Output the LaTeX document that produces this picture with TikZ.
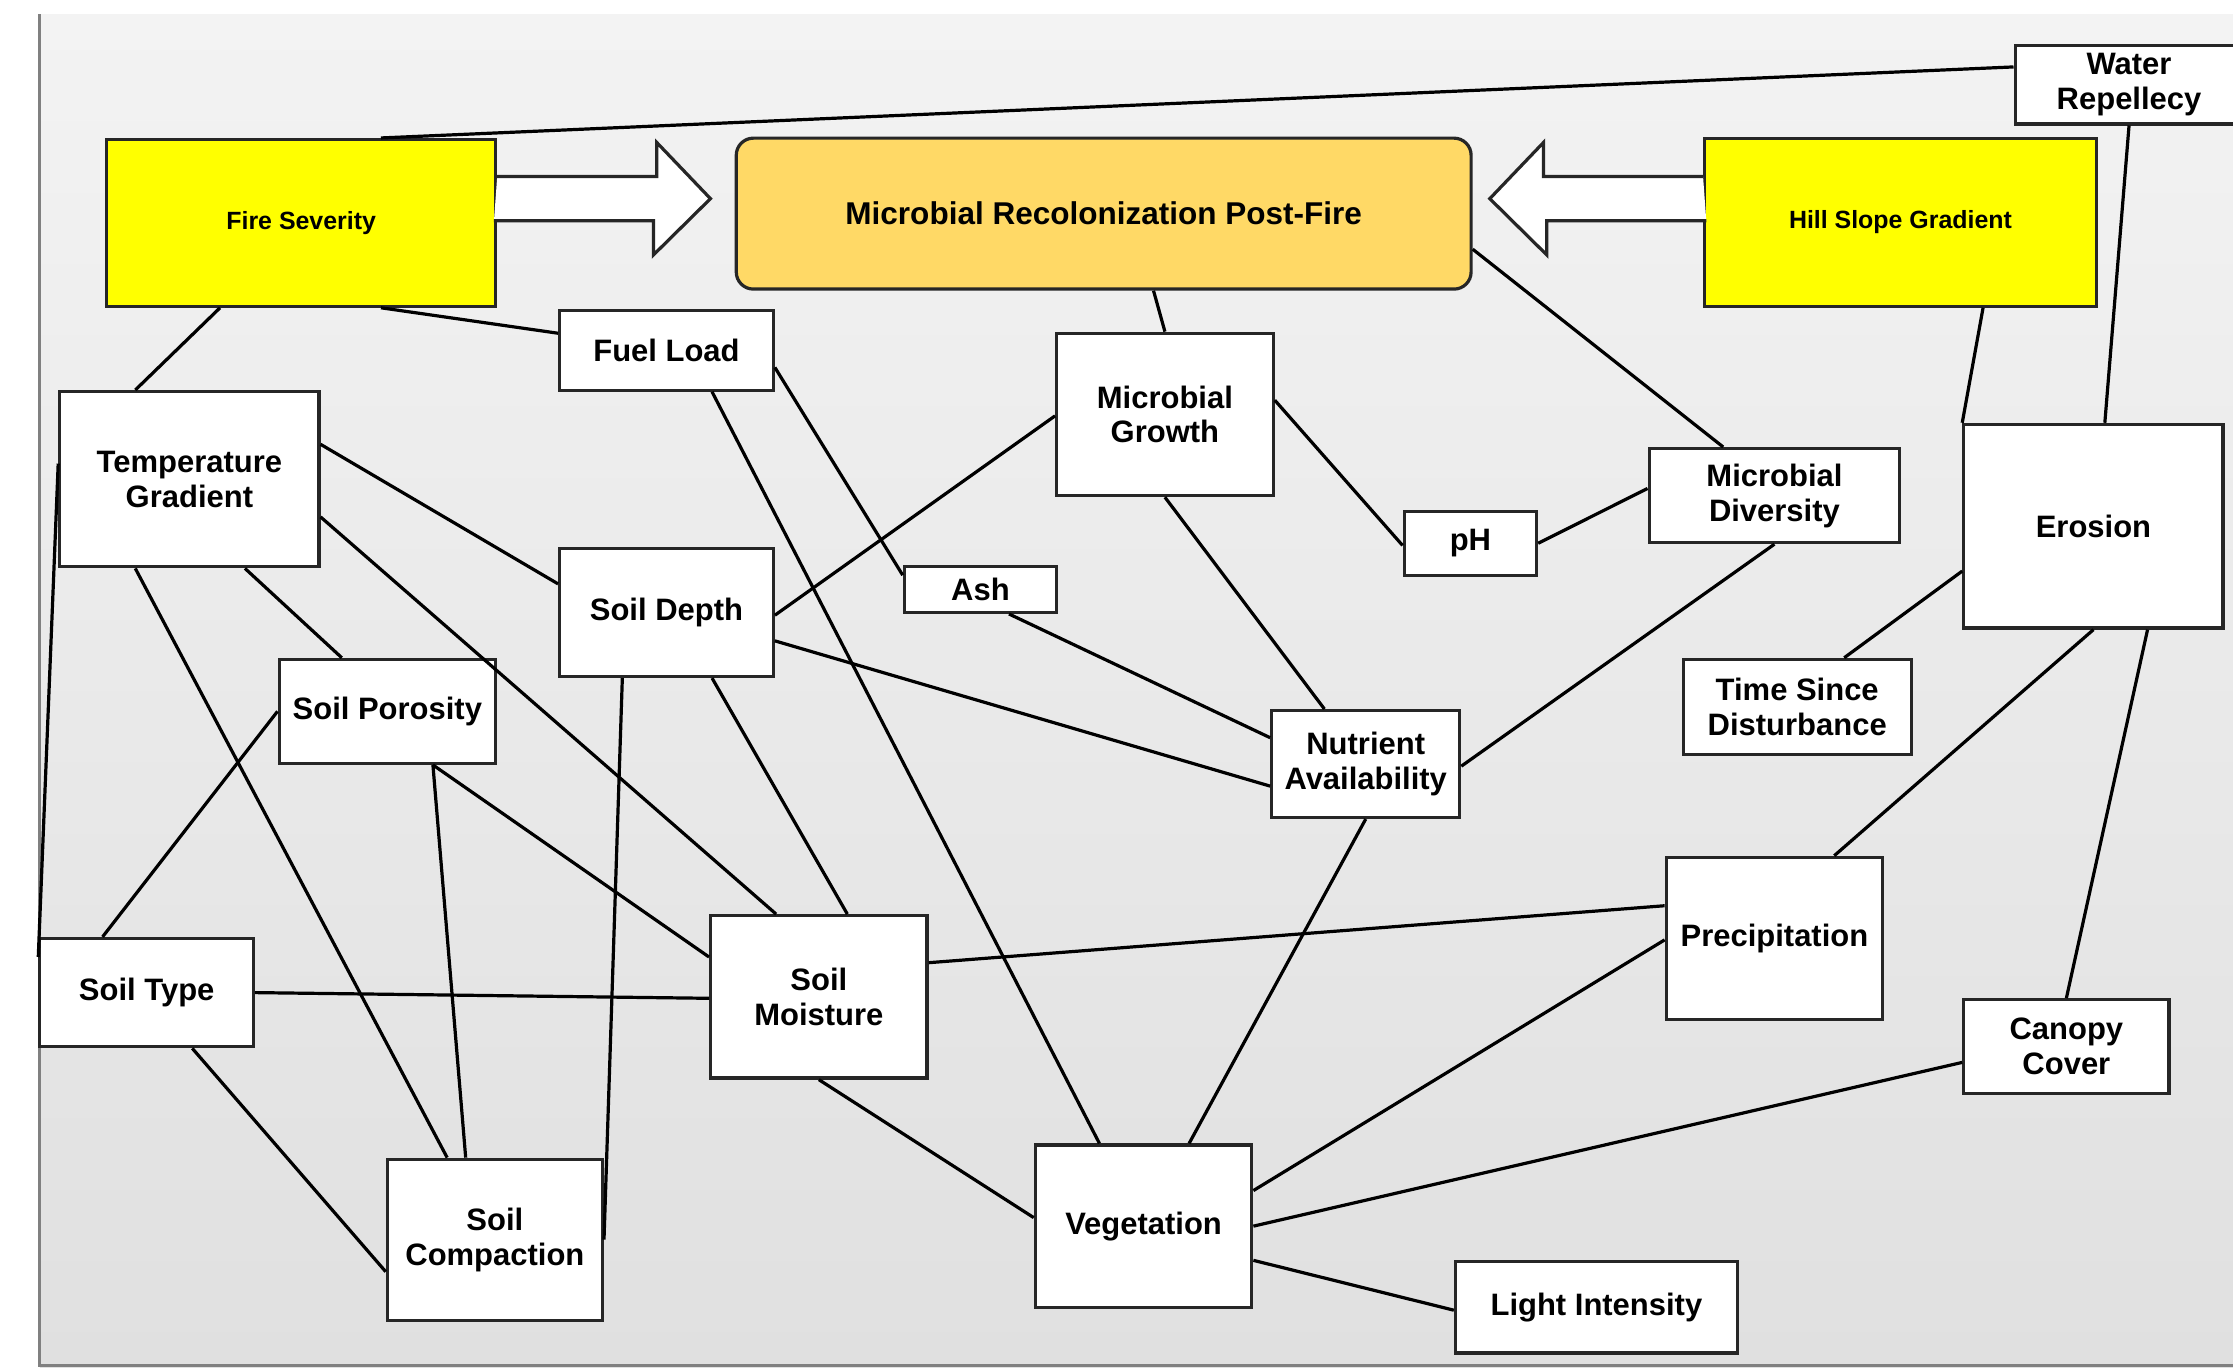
\documentclass[tikz,border=0pt]{standalone}
\usepackage{fontspec}
\setmainfont{Liberation Sans}
\usetikzlibrary{calc}

\newlength\px
\setlength\px{0.4pt}

\definecolor{keyyellow}{RGB}{255,255,0}
\definecolor{hubfill}{RGB}{255,217,102}
\definecolor{boxline}{RGB}{38,38,38}
\definecolor{bgtop}{RGB}{243,243,243}
\definecolor{bgbot}{RGB}{224,224,224}
\definecolor{bgline}{RGB}{128,128,128}

\tikzset{
  box/.style={draw=boxline, fill=white, line width=0.9pt, align=center, inner sep=0pt,
    font=\fontsize{8.7}{9.8}\selectfont\bfseries},
  keybox/.style={box, fill=keyyellow, font=\fontsize{7}{8}\selectfont\bfseries},
  hubbox/.style={box, fill=hubfill, rounded corners=4.8pt,
    font=\fontsize{8.85}{10}\selectfont\bfseries},
  link/.style={line width=0.9pt, draw=black},
  bigarrow/.style={draw=boxline, fill=white, line width=0.9pt},
}

\begin{document}
\begin{tikzpicture}[x=0.4pt, y=-0.4pt]
  \useasboundingbox (0,0) rectangle (1568,960);
  % background panel
  \shade[top color=bgtop, bottom color=bgbot] (28,10) rectangle (1568,960);
  \draw[bgline, line width=0.8pt] (28,10) -- (28,960);
  \draw[bgline, line width=0.8pt] (28,959) -- (1568,959);

  % driver boxes and the hub
  \node[keybox, minimum width=273\px, minimum height=117\px] (fire) at (211.5,156.5) {Fire Severity};
  \node[hubbox, minimum width=516\px, minimum height=106\px] (hub) at (775,150) {Microbial Recolonization Post-Fire};
  \node[keybox, minimum width=275\px, minimum height=118\px] (hill) at (1334.5,156) {Hill Slope Gradient};

  % factor boxes
  \node[box, minimum width=160\px, minimum height=55\px] (water) at (1495,59.5) {Water\\Repellecy};
  \node[box, minimum width=150\px, minimum height=56\px] (fuel) at (468,246) {Fuel Load};
  \node[box, minimum width=152\px, minimum height=114\px] (growth) at (818,291) {Microbial\\Growth};
  \node[box, minimum width=182\px, minimum height=123\px] (temp) at (133,336.5) {Temperature\\Gradient};
  \node[box, minimum width=150\px, minimum height=90\px] (depth) at (468,430) {Soil Depth};
  \node[box, minimum width=107\px, minimum height=32\px] (ash) at (688.5,414) {Ash};
  \node[box, minimum width=93\px, minimum height=45\px] (ph) at (1032.5,381.5) {pH};
  \node[box, minimum width=176\px, minimum height=66\px] (diversity) at (1246,348) {Microbial\\Diversity};
  \node[box, minimum width=182\px, minimum height=143\px] (erosion) at (1470,369.5) {Erosion};
  \node[box, minimum width=152\px, minimum height=73\px] (porosity) at (272,499.5) {Soil Porosity};
  \node[box, minimum width=160\px, minimum height=67\px] (since) at (1262,496.5) {Time Since\\Disturbance};
  \node[box, minimum width=132\px, minimum height=75\px] (nutrient) at (959,536.5) {Nutrient\\Availability};
  \node[box, minimum width=150\px, minimum height=76\px] (soiltype) at (103,697) {Soil Type};
  \node[box, minimum width=152\px, minimum height=114\px] (moisture) at (575,700) {Soil\\Moisture};
  \node[box, minimum width=152\px, minimum height=114\px] (precip) at (1246,659) {Precipitation};
  \node[box, minimum width=144\px, minimum height=66\px] (canopy) at (1451,735) {Canopy\\Cover};
  \node[box, minimum width=151\px, minimum height=113\px] (compaction) at (347.5,870.5) {Soil\\Compaction};
  \node[box, minimum width=152\px, minimum height=114\px] (veg) at (803,861) {Vegetation};
  \node[box, minimum width=198\px, minimum height=64\px] (light) at (1121,918) {Light Intensity};

  % block arrows into the hub
  \draw[bigarrow] ($(fire.east)+(0,-32.5)$) -- ++(112,0) -- ++(0,-24)
    -- ($(hub.west)+(-17,-10.5)$) -- ++(-40,39.5) -- ++(0,-24) -- ++(-112,0);
  \draw[bigarrow] ($(hill.west)+(0,-32)$) -- ++(-112,0) -- ++(0,-24)
    -- ($(hub.east)+(12,-10.5)$) -- ++(40,39.5) -- ++(0,-24) -- ++(112,0);

  % links
  \draw[link] ($(fire.north)+(56,0)$) -- ($(water.west)+(0,-12.5)$);
  \draw[link] ($(fire.south)+(56,0)$) -- ($(fuel.west)+(0,-12)$);
  \draw[link] ($(fire.south)+(-57,0)$) -- ($(temp.north)+(-38,0)$);
  \draw[link] ($(hub.south)+(35,0)$) -- (growth.north);
  \draw[link] ($(hub.east)+(0,25)$) -- ($(diversity.north)+(-36,0)$);
  \draw[link] ($(hill.south)+(58,0)$) -- (erosion.north west);
  \draw[link] (water.south) -- ($(erosion.north)+(8,0)$);
  \draw[link] ($(fuel.east)+(0,12)$) -- ($(ash.north west)+(0,7)$);
  \draw[link] ($(fuel.south)+(32,0)$) -- ($(veg.north)+(-31,0)$);
  \draw[link] ($(growth.west)+(0,1)$) -- ($(depth.east)+(0,2)$);
  \draw[link] ($(growth.east)+(0,-10)$) -- ($(ph.west)+(0,1.5)$);
  \draw[link] (growth.south) -- ($(nutrient.north)+(-29,0)$);
  \draw[link] (ph.east) -- ($(diversity.west)+(0,-5)$);
  \draw[link] (diversity.south) -- ($(nutrient.east)+(0,1.5)$);
  \draw[link] ($(erosion.west)+(0,31.5)$) -- ($(since.north)+(33,0)$);
  \draw[link] (erosion.south) -- ($(precip.north)+(42,0)$);
  \draw[link] ($(erosion.south)+(38,0)$) -- (canopy.north);
  \draw[link] ($(temp.east)+(0,-24.5)$) -- ($(depth.west)+(0,-20)$);
  \draw[link] ($(temp.east)+(0,26.5)$) -- ($(moisture.north)+(-30,0)$);
  \draw[link] ($(temp.south)+(39,0)$) -- ($(porosity.north)+(-32,0)$);
  \draw[link] ($(temp.south)+(-38,0)$) -- ($(compaction.north)+(-33.5,0)$);
  \draw[link] ($(temp.west)+(0,-11)$) -- ($(soiltype.west)+(0,-25)$);
  \draw[link] ($(ash.south)+(20,0)$) -- ($(nutrient.west)+(0,-18.5)$);
  \draw[link] ($(depth.east)+(0,20)$) -- ($(nutrient.west)+(0,15.5)$);
  \draw[link] ($(depth.south)+(32,0)$) -- ($(moisture.north)+(20,0)$);
  \draw[link] ($(depth.south)+(-31,0)$) -- (compaction.east);
  \draw[link] (porosity.west) -- ($(soiltype.north)+(-31,0)$);
  \draw[link] ($(porosity.south)+(32,0)$) -- ($(compaction.north)+(-20.5,0)$);
  \draw[link] ($(porosity.south)+(32,0)$) -- ($(moisture.west)+(0,-28)$);
  \draw[link] (soiltype.east) -- ($(moisture.west)+(0,1)$);
  \draw[link] ($(soiltype.south)+(32,0)$) -- ($(compaction.west)+(0,22.5)$);
  \draw[link] ($(moisture.east)+(0,-24)$) -- ($(precip.west)+(0,-23)$);
  \draw[link] (moisture.south) -- ($(veg.west)+(0,-6)$);
  \draw[link] (nutrient.south) -- ($(veg.north)+(32,0)$);
  \draw[link] ($(precip.west)+(0,1)$) -- ($(veg.east)+(0,-25)$);
  \draw[link] ($(canopy.west)+(0,11)$) -- (veg.east);
  \draw[link] ($(veg.east)+(0,24)$) -- ($(light.west)+(0,2)$);
\end{tikzpicture}
\end{document}
